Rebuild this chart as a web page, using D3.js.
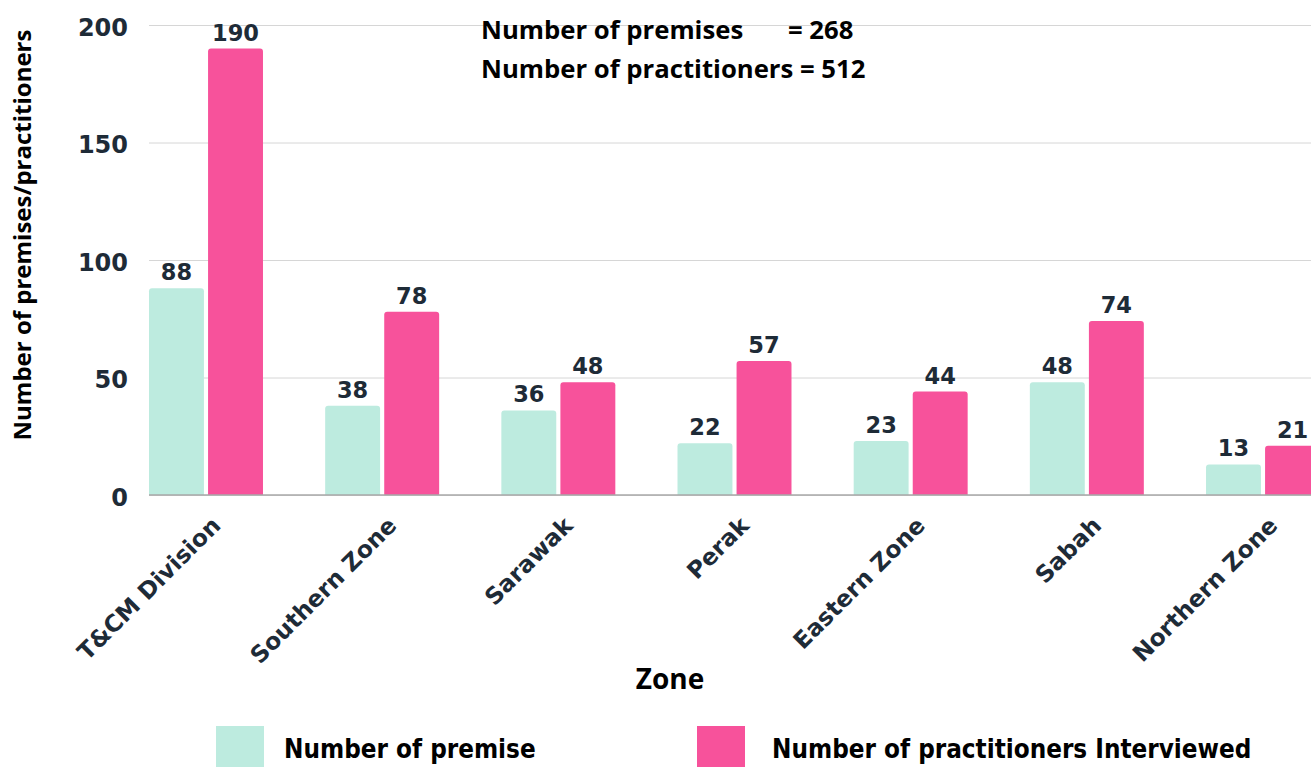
<!DOCTYPE html>
<html>
<head>
<meta charset="utf-8">
<script src="https://cdn.jsdelivr.net/npm/d3@7"></script>
<style>
  body { margin: 0; background: #fff; }
  svg { display: block; }
  text { font-family: "Open Sans", "DejaVu Sans", sans-serif; font-weight: 700; }
  .wide { font-family: "DejaVu Sans", sans-serif; }
</style>
</head>
<body>
<div id="chart"></div>
<script>
var zones = ["T&CM Division", "Southern Zone", "Sarawak", "Perak", "Eastern Zone", "Sabah", "Northern Zone"];
var premises = [88, 38, 36, 22, 23, 48, 13];
var practitioners = [190, 78, 48, 57, 44, 74, 21];
var seriesNames = ["Number of premise", "Number of practitioners Interviewed"];
var seriesColors = ["#bdebdf", "#f7529b"];
var yTicks = [0, 50, 100, 150, 200];

var width = 1311, height = 767;
var dark = "#1e2b37";

var svg = d3.select("#chart")
            .append("svg")
            .attr("width", width)
            .attr("height", height);

// scales
var y = d3.scaleLinear()
          .domain([0, 200])
          .range([495, 25]);

var x0 = d3.scaleBand()
           .domain(zones)
           .range([149, 1320])
           .paddingInner(0.353)
           .paddingOuter(0);

var x1 = d3.scaleBand()
           .domain([0, 1])
           .range([0, x0.bandwidth()])
           .paddingInner(0.07);

// gridlines + tick labels
var yAxis = d3.axisLeft(y)
              .tickValues(yTicks)
              .tickSize(-(width - 149))
              .tickPadding(21);

var gy = svg.append("g")
    .attr("transform", "translate(149,0)")
    .call(yAxis);
gy.select(".domain").remove();
gy.selectAll(".tick line").attr("stroke", "#d6d6d6").attr("stroke-width", 1);
gy.selectAll(".tick text")
  .attr("class", "wide")
  .attr("fill", dark)
  .style("font-size", "24px")
  .attr("dy", "0.42em");

// bars
var rows = zones.map(function(z, i) {
  return { zone: z, values: [premises[i], practitioners[i]] };
});

var groups = svg.selectAll(".grp")
    .data(rows)
    .enter()
    .append("g")
    .attr("class", "grp")
    .attr("transform", function(d) { return "translate(" + x0(d.zone) + ",0)"; });

function barPath(x, w, top, bottom, r) {
  return "M" + x + "," + bottom +
         "V" + (top + r) +
         "Q" + x + "," + top + " " + (x + r) + "," + top +
         "H" + (x + w - r) +
         "Q" + (x + w) + "," + top + " " + (x + w) + "," + (top + r) +
         "V" + bottom + "Z";
}

groups.selectAll("path")
    .data(function(d) { return d.values; })
    .enter()
    .append("path")
    .attr("d", function(v, j) { return barPath(x1(j), x1.bandwidth(), y(v), y(0), 3); })
    .attr("fill", function(v, j) { return seriesColors[j]; });

groups.selectAll(".val")
    .data(function(d) { return d.values; })
    .enter()
    .append("text")
    .attr("class", "val wide")
    .attr("x", function(v, j) { return x1(j) + x1.bandwidth() / 2; })
    .attr("y", function(v) { return y(v) - 8; })
    .attr("text-anchor", "middle")
    .attr("fill", dark)
    .style("font-size", "22.5px")
    .text(function(v) { return v; });

// x axis line
svg.append("line")
   .attr("x1", 149).attr("x2", width)
   .attr("y1", y(0)).attr("y2", y(0))
   .attr("stroke", "#a8a8a8").attr("stroke-width", 1.5);

// x category labels
svg.selectAll(".xlab")
   .data(zones)
   .enter()
   .append("text")
   .attr("class", "xlab wide")
   .attr("transform", function(d) {
     return "translate(" + (x0(d) + x0.bandwidth() / 2 + 4) + ",515) rotate(-45)";
   })
   .attr("text-anchor", "end")
   .attr("dy", "0.72em")
   .attr("fill", dark)
   .style("font-size", "23.4px")
   .text(function(d) { return d; });

// axis titles
svg.append("text")
   .attr("transform", "translate(31,235) rotate(-90)")
   .attr("text-anchor", "middle")
   .attr("fill", "#000")
   .style("font-size", "24px")
   .text("Number of premises/practitioners");

svg.append("text")
   .attr("x", 670).attr("y", 689)
   .attr("text-anchor", "middle")
   .attr("fill", "#000")
   .style("font-size", "28px")
   .text("Zone");

// totals note
svg.append("text")
   .attr("x", 481).attr("y", 39)
   .attr("fill", "#000")
   .style("font-size", "25.7px")
   .text("Number of premises");
svg.append("text")
   .attr("x", 788).attr("y", 39)
   .attr("fill", "#000")
   .style("font-size", "25.7px")
   .text("= 268");
svg.append("text")
   .attr("x", 481).attr("y", 78)
   .attr("fill", "#000")
   .style("font-size", "25.7px")
   .text("Number of practitioners = 512");

// legend
var legendX = [216, 697];
var legend = svg.selectAll(".leg")
    .data(seriesNames)
    .enter()
    .append("g")
    .attr("class", "leg")
    .attr("transform", function(d, i) { return "translate(" + legendX[i] + ",726)"; });

legend.append("rect")
      .attr("width", 48).attr("height", 45)
      .attr("fill", function(d, i) { return seriesColors[i]; });

legend.append("text")
      .attr("x", function(d, i) { return i === 0 ? 68 : 75; })
      .attr("y", 32)
      .attr("fill", "#000")
      .style("font-family", "'Liberation Sans Narrow', 'DejaVu Sans Condensed', sans-serif")
      .style("font-size", "25.8px")
      .text(function(d) { return d; });
</script>
</body>
</html>
